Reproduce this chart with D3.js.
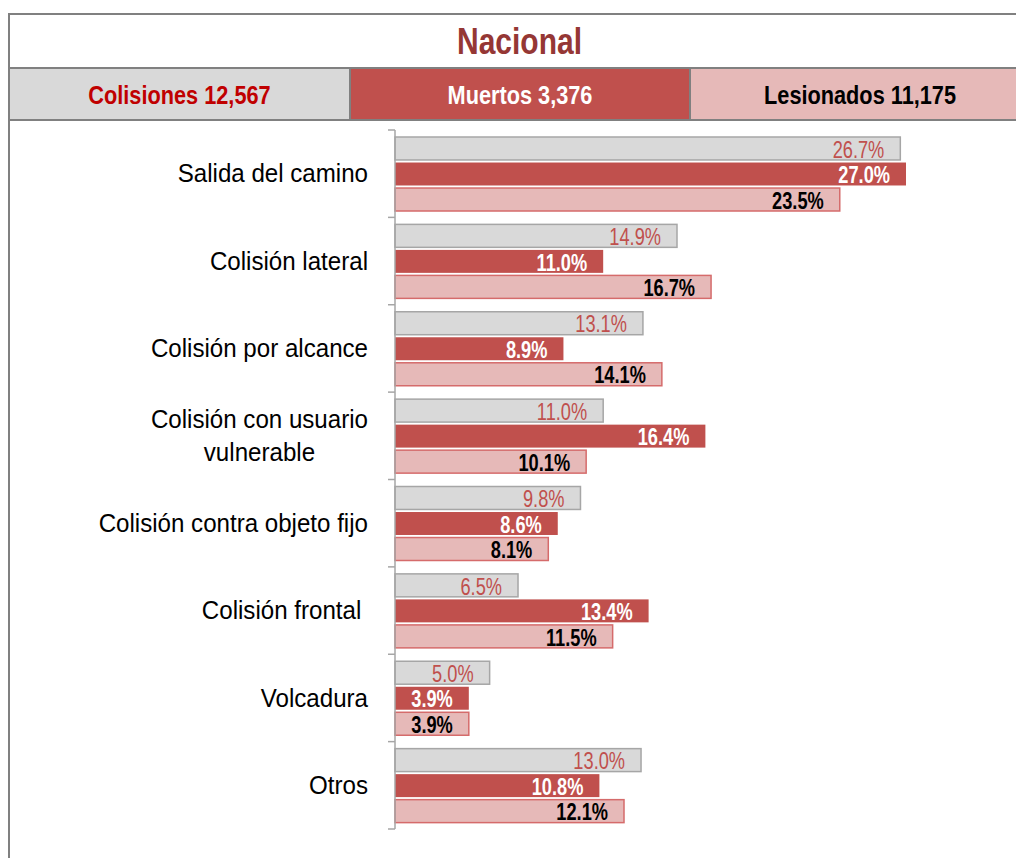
<!DOCTYPE html>
<html>
<head>
<meta charset="utf-8">
<script src="https://cdn.jsdelivr.net/npm/d3@7"></script>
<style>
  html, body { margin: 0; padding: 0; background: #ffffff; }
  svg { display: block; }
  text { font-family: "Liberation Sans", Arial, sans-serif; }
</style>
</head>
<body>
<svg id="chart" width="1016" height="858"></svg>
<script>
const title = "Nacional";
const headerLabels = ["Colisiones 12,567", "Muertos 3,376", "Lesionados 11,175"];
const categories = [
  ["Salida del camino"],
  ["Colisión lateral"],
  ["Colisión por alcance"],
  ["Colisión con usuario", "vulnerable"],
  ["Colisión contra objeto fijo"],
  ["Colisión frontal\u00A0"],
  ["Volcadura"],
  ["Otros"]
];
const seriesNames = ["Colisiones", "Muertos", "Lesionados"];
const colisiones = [26.7, 14.9, 13.1, 11.0, 9.8, 6.5, 5.0, 13.0];
const muertos    = [27.0, 11.0, 8.9, 16.4, 8.6, 13.4, 3.9, 10.8];
const lesionados = [23.5, 16.7, 14.1, 10.1, 8.1, 11.5, 3.9, 12.1];

const seriesValues = [colisiones, muertos, lesionados];
const fills   = ["#D9D9D9", "#C0504D", "#E6B9B8"];
const strokes = ["#A6A6A6", "#C0504D", "#D56B6B"];
const labelColors = ["#C0504D", "#FFFFFF", "#000000"];
const labelWeights = ["normal", "bold", "bold"];
const headerText = ["#C00000", "#FFFFFF", "#000000"];

const svg = d3.select("#chart");
const border = "#808080";

// Frame geometry
const frameL = 9, frameR = 1030, frameT = 14, headTop = 68, headBot = 120;
const cellEdges = [frameL, 350, 690, frameR];

headerLabels.forEach((lab, i) => {
  svg.append("rect")
    .attr("x", cellEdges[i]).attr("y", headTop)
    .attr("width", cellEdges[i+1] - cellEdges[i]).attr("height", headBot - headTop)
    .attr("fill", fills[i]);
  const cx = (cellEdges[i] + cellEdges[i+1]) / 2;
  svg.append("text")
    .attr("transform", `translate(${cx},${(headTop+headBot)/2 + 0.5}) scale(0.82,1)`)
    .attr("text-anchor", "middle").attr("dy", "0.36em")
    .attr("font-size", 26.5).attr("font-weight", "bold")
    .attr("fill", headerText[i]).text(lab);
});

// title
svg.append("text")
  .attr("transform", `translate(${(frameL+frameR)/2},40) scale(0.8,1)`)
  .attr("text-anchor", "middle").attr("dy", "0.36em")
  .attr("font-size", 37.5).attr("font-weight", "bold")
  .attr("fill", "#953735").text(title);

// frame lines
const frameLines = [
  [frameL, frameT, frameR, frameT],
  [frameL, headTop, frameR, headTop],
  [frameL, headBot, frameR, headBot],
  [frameL, frameT - 1, frameL, 860],
  [350, headTop, 350, headBot],
  [690, headTop, 690, headBot]
];
svg.selectAll("line.frame").data(frameLines).enter().append("line")
  .attr("class", "frame")
  .attr("x1", d => d[0]).attr("y1", d => d[1])
  .attr("x2", d => d[2]).attr("y2", d => d[3])
  .attr("stroke", border).attr("stroke-width", 2);

// chart scales
const x = d3.scaleLinear().domain([0, 27]).range([395, 906]);
const y0 = d3.scaleBand().domain(d3.range(categories.length)).range([130, 829]).padding(0);
const y1 = d3.scaleBand().domain(d3.range(3)).range([7, 81]).paddingInner(0.1).paddingOuter(0);

const g = svg.append("g");
categories.forEach((cat, ci) => {
  const gy = y0(ci);
  seriesValues.forEach((vals, si) => {
    const v = vals[ci];
    const by = gy + y1(si);
    const bh = y1.bandwidth();
    g.append("rect")
      .attr("x", x(0)).attr("y", by)
      .attr("width", x(v) - x(0)).attr("height", bh)
      .attr("fill", fills[si])
      .attr("stroke", si === 1 ? "none" : strokes[si])
      .attr("stroke-width", 1.5);
    g.append("text")
      .attr("transform", `translate(${x(v) - 16},${by + bh/2 + 0.5}) scale(0.76,1)`)
      .attr("text-anchor", "end").attr("dy", "0.36em")
      .attr("font-size", 24).attr("font-weight", labelWeights[si])
      .attr("fill", labelColors[si])
      .text(v.toFixed(1) + "%");
  });
  // category label
  const cy = gy + y0.bandwidth() / 2;
  const lh = 33;
  const t = svg.append("text")
    .attr("transform", `translate(368,${cy}) scale(0.91,1)`)
    .attr("font-size", 26.5).attr("fill", "#000000")
    .style("white-space", "pre");
  if (cat.length === 1) {
    t.attr("text-anchor", "end");
    t.append("tspan").attr("x", 0).attr("dy", "0.33em").text(cat[0]);
  } else {
    t.attr("text-anchor", "middle");
    const tmp = svg.append("text").attr("font-size", 26.5).text(cat[0]);
    const w = tmp.node().getComputedTextLength();
    tmp.remove();
    cat.forEach((line, li) => {
      t.append("tspan").attr("x", -w / 2)
        .attr("y", (li - (cat.length - 1) / 2) * lh)
        .attr("dy", "0.33em").text(line);
    });
  }
});

// axis: line and ticks at category boundaries
const tickYs = categories.map((c, i) => y0(i)).concat([y0.range()[1]]);
svg.append("line")
  .attr("x1", x(0)).attr("x2", x(0))
  .attr("y1", tickYs[0]).attr("y2", tickYs[tickYs.length - 1])
  .attr("stroke", "#A6A6A6").attr("stroke-width", 1.5);
svg.selectAll("line.tick").data(tickYs).enter().append("line")
  .attr("class", "tick")
  .attr("x1", x(0) - 7).attr("x2", x(0))
  .attr("y1", d => d).attr("y2", d => d)
  .attr("stroke", "#A6A6A6").attr("stroke-width", 1.5);
</script>
</body>
</html>
